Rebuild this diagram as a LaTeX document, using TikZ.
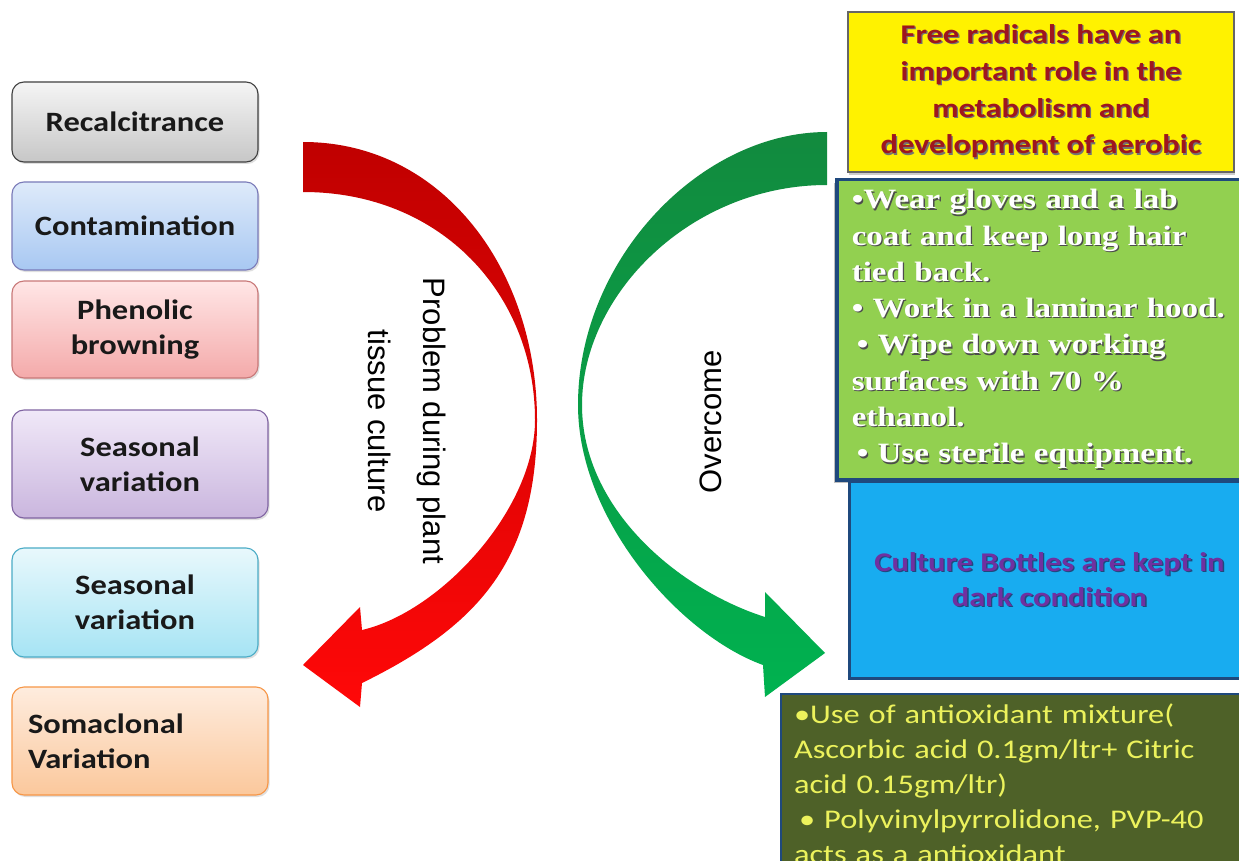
\documentclass[tikz,border=0pt]{standalone}
\usepackage{fontspec}
\setmainfont{Carlito}
\newfontfamily\calb[FakeStretch=1.16]{Carlito}
\newfontfamily\calc[FakeStretch=1.2]{Carlito}
\newfontfamily\arl{Liberation Sans}
\newfontfamily\tms[FakeStretch=1.18]{Liberation Serif}
\usetikzlibrary{shadows}
\definecolor{bord}{RGB}{31,73,125}
\definecolor{grn}{RGB}{146,208,80}
\definecolor{blu}{RGB}{24,172,240}
\definecolor{olv}{RGB}{78,97,40}
\definecolor{oltext}{RGB}{236,242,92}
\definecolor{ytext}{RGB}{158,22,30}
\definecolor{purp}{RGB}{112,48,160}
\definecolor{redtop}{RGB}{192,0,0}
\definecolor{redbot}{RGB}{255,8,8}
\definecolor{grntop}{RGB}{18,138,62}
\definecolor{grnbot}{RGB}{0,178,80}
\newcommand\shd[2][black]{\leavevmode\rlap{\hspace{1.3pt}\raisebox{-1.3pt}{\textcolor{#1}{#2}}}#2}
\begin{document}
\begin{tikzpicture}[x=1pt,y=-1pt,
  lbox/.style={draw, rounded corners=12pt, line width=1.1pt, align=center,
    font=\calb\bfseries\fontsize{28}{35}\selectfont, text=black!90,
    drop shadow={opacity=0.25, shadow xshift=1.5pt, shadow yshift=-2pt}},
  rbox/.style={draw=bord, anchor=north west},
  sidetext/.style={font=\arl\fontsize{31}{55}\selectfont, align=center}]
\useasboundingbox (0,0) rectangle (1239,861);
\fill[white] (0,0) rectangle (1239,861);
\clip (0,0) rectangle (1239,861);

% red curved arrow
\shade[top color=redtop, bottom color=redbot]
  (303,142) .. controls (443,142) and (537,270) .. (537,420)
  .. controls (537,560) and (480,625) .. (362,683)
  -- (360,707) -- (303,665) -- (360,607) -- (362,630)
  .. controls (440,612) and (535,510) .. (535,420)
  .. controls (535,295) and (442,192) .. (303,192) -- cycle;

% green curved arrow
\shade[top color=grntop, bottom color=grnbot]
  (827,132) .. controls (700,132) and (578,260) .. (578,405)
  .. controls (578,520) and (680,635) .. (763,665)
  -- (765,697) -- (825,653) -- (765,592) -- (765,617)
  .. controls (680,590) and (582,510) .. (582,405)
  .. controls (582,295) and (690,185) .. (827,185) -- cycle;

\node[sidetext, rotate=-90] (prob) at (407,421) {Problem during plant\\tissue culture};
\node[sidetext, rotate=90] (ovc) at (711,422) {Overcome};

% left boxes
\node[lbox, draw=black!75, top color=black!4, bottom color=black!22,
  minimum width=246pt, minimum height=80pt] (rec) at (135,122) {Recalcitrance};
\node[lbox, draw=blue!30!gray!80, top color={rgb,255:red,222;green,234;blue,250}, bottom color={rgb,255:red,168;green,200;blue,242},
  minimum width=246pt, minimum height=88pt] (con) at (135,226) {Contamination};
\node[lbox, draw={rgb,255:red,200;green,120;blue,120}, top color={rgb,255:red,255;green,230;blue,230}, bottom color={rgb,255:red,244;green,170;blue,170},
  minimum width=246pt, minimum height=97pt] (phe) at (135,329.5) {Phenolic\\browning};
\node[lbox, draw={rgb,255:red,128;green,100;blue,162}, top color={rgb,255:red,240;green,232;blue,248}, bottom color={rgb,255:red,202;green,182;blue,222},
  minimum width=256pt, minimum height=108pt] (sea1) at (140,464) {Seasonal\\variation};
\node[lbox, draw={rgb,255:red,75;green,172;blue,198}, top color={rgb,255:red,232;green,248;blue,252}, bottom color={rgb,255:red,166;green,228;blue,244},
  minimum width=246pt, minimum height=109pt] (sea2) at (135,602.5) {Seasonal\\variation};
\node[lbox, draw={rgb,255:red,247;green,150;blue,70}, top color={rgb,255:red,254;green,236;blue,222}, bottom color={rgb,255:red,251;green,200;blue,156},
  minimum width=256pt, minimum height=108pt, text width=224pt, inner xsep=16pt, align=left] (som) at (140,741) {Somaclonal\\Variation};

% right boxes
\node[draw=black!60, line width=1.5pt, fill=yellow, minimum width=386pt, minimum height=160pt,
  font=\calc\bfseries\fontsize{27}{36.7}\selectfont, text=ytext, align=center,
  drop shadow={opacity=0.4, shadow xshift=1pt, shadow yshift=-3pt}] (free) at (1041,92)
  {\shd[black!55]{Free radicals have an}\\\shd[black!55]{important role in the}\\\shd[black!55]{metabolism and}\\\shd[black!55]{development of aerobic}};

\node[rbox, line width=3.5pt, fill=grn, minimum width=420pt, minimum height=300pt,
  text width=390pt, align=left, inner xsep=13pt, inner ysep=4pt,
  font=\tms\bfseries\fontsize{28}{36.3}\selectfont, text=white,
  drop shadow={opacity=0.5, shadow xshift=-3pt, shadow yshift=-3pt}] (wear) at (835,178)
  {\shd[black!70]{•Wear gloves and a lab}\\
   \shd[black!70]{coat and keep long hair}\\
   \shd[black!70]{tied back.}\\
   \shd[black!70]{• Work in a laminar hood.}\\
   \hspace{5pt}\shd[black!70]{• Wipe down working}\\
   \shd[black!70]{surfaces with 70 \%}\\
   \shd[black!70]{ethanol.}\\
   \hspace{5pt}\shd[black!70]{• Use sterile equipment.}};

\node[rbox, line width=3pt, fill=blu, minimum width=400pt, minimum height=197pt,
  font=\calc\bfseries\fontsize{27}{35}\selectfont, text=purp, align=center] (bott) at (848,480)
  {\shd[bord]{Culture Bottles are kept in}\\\shd[bord]{dark condition}};

\node[rbox, line width=2pt, fill=olv, minimum height=180pt, text width=440pt, align=left,
  inner xsep=13pt, inner ysep=0pt, font=\calc\fontsize{27}{35}\selectfont, text=oltext] (anti) at (780,693)
  {•Use of antioxidant mixture(\\
   Ascorbic acid 0.1gm/ltr+ Citric\\
   acid 0.15gm/ltr)\\
   \hspace{5pt}• Polyvinylpyrrolidone, PVP-40\\
   acts as a antioxidant};
\end{tikzpicture}
\end{document}
